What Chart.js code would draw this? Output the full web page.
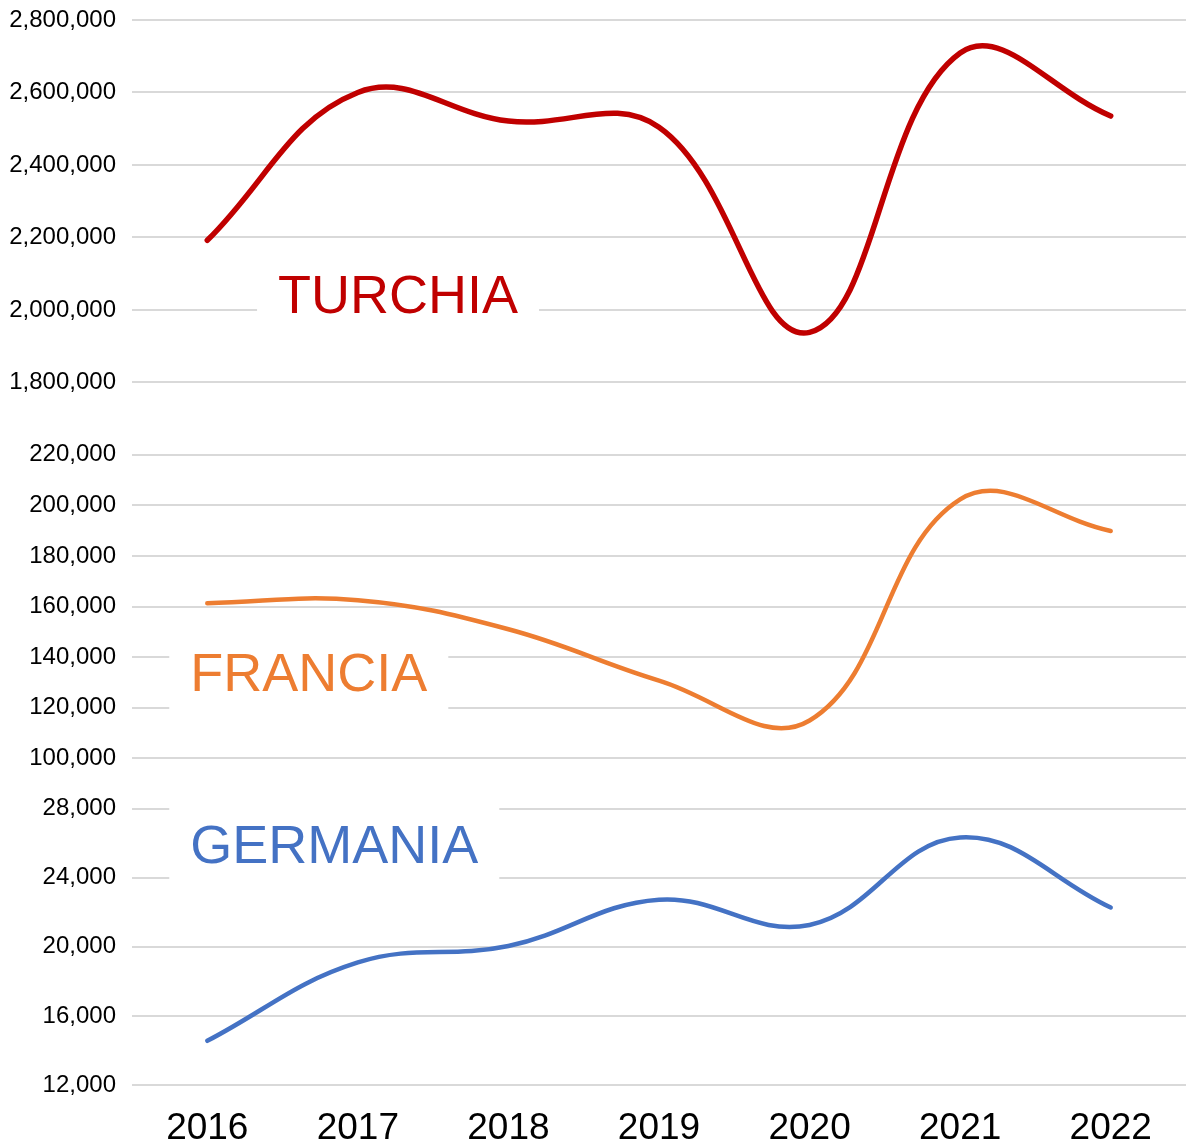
<!DOCTYPE html>
<html>
<head>
<meta charset="utf-8">
<script src="https://cdn.jsdelivr.net/npm/chart.js@4"></script>
<style>
  html, body { margin: 0; padding: 0; background: #fff; }
  #wrap { width: 1186px; height: 1144px; position: relative; }
</style>
</head>
<body>
<div id="wrap"><canvas id="chart"></canvas></div>
<script>
const years = ["2016", "2017", "2018", "2019", "2020", "2021", "2022"];
const turchia = [2192000, 2600000, 2521000, 2504000, 1938000, 2709000, 2535000];
const francia = [161300, 162500, 151000, 130700, 114900, 202400, 189900];
const germania = [14560, 19100, 20050, 22730, 21270, 26340, 22280];

const gridColor = "#d9d9d9";
const tickFont = { family: "Liberation Sans, Arial, sans-serif", size: 24, lineHeight: 1.0 };

// white text boxes with the country names, placed on the scales
const labelsPlugin = {
    id: "countryLabels",
    beforeDatasetsDraw(chart) {
        const ctx = chart.ctx;
        const xs = chart.scales.x;
        const items = [
            { text: "TURCHIA", color: "#c00000", axis: "yT", x: 0.47, y: 2032000 },
            { text: "FRANCIA", color: "#ed7d31", axis: "yF", x: -0.113, y: 132500 },
            { text: "GERMANIA", color: "#4472c4", axis: "yG", x: -0.113, y: 25700 }
        ];
        ctx.save();
        ctx.font = "54px Liberation Sans, Arial, sans-serif";
        ctx.textBaseline = "middle";
        ctx.textAlign = "left";
        items.forEach((it) => {
            const px = xs.getPixelForValue(it.x);
            const py = chart.scales[it.axis].getPixelForValue(it.y);
            const w = ctx.measureText(it.text).width;
            ctx.fillStyle = "#fff";
            ctx.fillRect(px - 21, py - 42, w + 42, 84);
            ctx.fillStyle = it.color;
            ctx.fillText(it.text, px, py);
        });
        ctx.restore();
    }
};

function yAxis(min, max, step, weight, dropMin) {
    return {
        type: "linear",
        position: "left",
        stack: "countries",
        stackWeight: weight,
        min: min,
        max: max,
        border: { display: false },
        grid: { color: gridColor, lineWidth: 2, drawTicks: false },
        ticks: {
            stepSize: step,
            autoSkip: false,
            padding: 16,
            color: "#000",
            font: tickFont,
            callback: (v) => v.toLocaleString("en-US")
        },
        afterBuildTicks(axis) {
            if (dropMin) axis.ticks = axis.ticks.filter((t) => t.value !== min);
        },
        afterFit(axis) {
            axis.width = 132;
            axis.paddingTop = 0;
            axis.paddingBottom = 0;
        }
    };
}

new Chart(document.getElementById("chart"), {
    type: "line",
    data: {
        labels: years,
        datasets: [
            { label: "Turchia", data: turchia, yAxisID: "yT", borderColor: "#c00000", borderWidth: 5.5 },
            { label: "Francia", data: francia, yAxisID: "yF", borderColor: "#ed7d31", borderWidth: 4.5 },
            { label: "Germania", data: germania, yAxisID: "yG", borderColor: "#4472c4", borderWidth: 4.5 }
        ]
    },
    options: {
        responsive: true,
        maintainAspectRatio: false,
        animation: false,
        locale: "en-US",
        layout: { padding: { top: 20, right: 0, bottom: 0, left: 0 } },
        elements: {
            line: { tension: 0.4, borderCapStyle: "round", fill: false },
            point: { radius: 0, hoverRadius: 0 }
        },
        plugins: {
            legend: { display: false },
            tooltip: { enabled: false }
        },
        scales: {
            x: {
                offset: true,
                border: { display: false },
                grid: { display: false, drawTicks: false },
                ticks: {
                    padding: 24,
                    color: "#000",
                    font: { family: "Liberation Sans, Arial, sans-serif", size: 37, lineHeight: 1.05 }
                },
                afterFit(axis) {
                    axis.height = 59;
                }
            },
            // stacked axes are laid out bottom-up in declaration order
            yG: yAxis(12000, 28000, 4000, 276, false),
            yF: yAxis(80000, 220000, 20000, 353.5, true),
            yT: yAxis(1600000, 2800000, 200000, 434.4, true)
        }
    },
    plugins: [labelsPlugin]
});
</script>
</body>
</html>
